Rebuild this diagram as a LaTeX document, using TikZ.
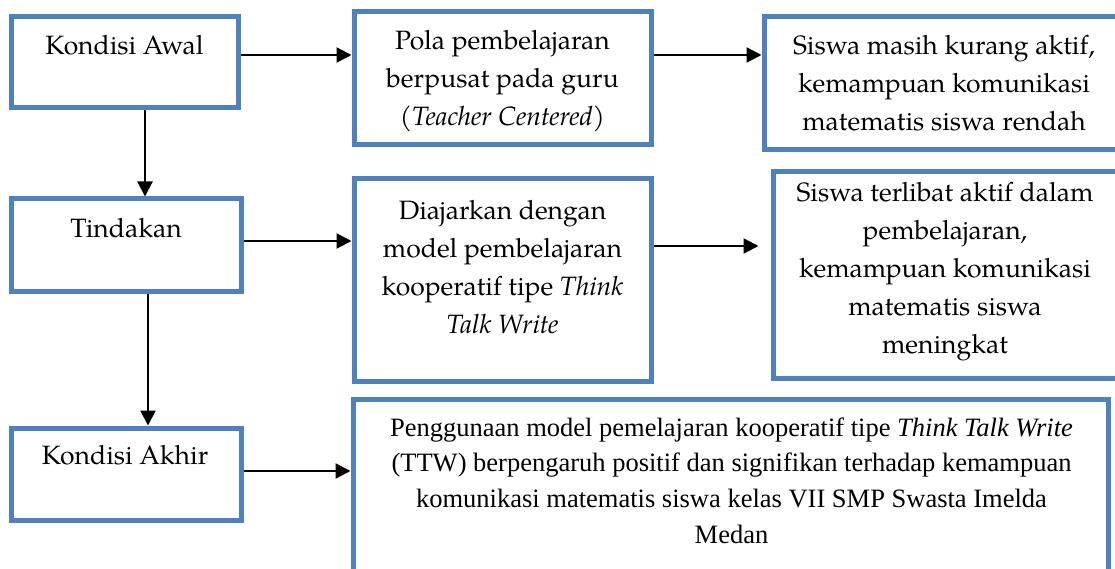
\documentclass[tikz,border=0pt]{standalone}
\usepackage{fontspec}
\setmainfont{texgyrepagella}[Extension=.otf, UprightFont=*-regular,
  ItalicFont=*-italic, BoldFont=*-bold, BoldItalicFont=*-bolditalic]
\newfontfamily\timesfont{Liberation Serif}
\usetikzlibrary{arrows.meta}
\definecolor{wordblue}{HTML}{4F81BD}

\begin{document}
\begin{tikzpicture}[x=1pt, y=-1pt,
  >={Triangle[length=15pt, width=15pt]},
  kotak/.style={draw=wordblue, line width=5pt, inner sep=0pt},
  isi/.style={align=center, inner sep=0pt, outer sep=0pt, anchor=north,
              font=\fontsize{26.5}{37.8}\selectfont},
  isitm/.style={isi, font=\timesfont\fontsize{26.5}{35.8}\selectfont},
  panah/.style={->, line width=2.2pt},
]
\useasboundingbox (0,0) rectangle (1115,569);
\clip (0,0) rectangle (1115,569);

% kotak
\node[kotak, minimum width=227pt, minimum height=91pt] (awal) at (124.5,62.5) {};
\node[kotak, minimum width=297pt, minimum height=133pt] (pola) at (502.5,78.5) {};
\node[kotak, minimum width=360pt, minimum height=133pt] (rendah) at (944,83.5) {};
\node[kotak, minimum width=230pt, minimum height=92pt] (tindakan) at (126,245) {};
\node[kotak, minimum width=297pt, minimum height=202pt] (ttw) at (502.5,280) {};
\node[kotak, minimum width=344pt, minimum height=206pt] (meningkat) at (945,275) {};
\node[kotak, minimum width=230pt, minimum height=92pt] (akhir) at (126,474) {};
\node[kotak, minimum width=755pt, minimum height=221pt] (simpulan) at (730.5,509.5) {};

% teks
\node[isi] (t-awal) at (124.5,28.5) {\strut Kondisi Awal};
\node[isi] (t-pola) at (502.5,23.5) {\strut Pola pembelajaran\\berpusat pada guru\\(\textit{Teacher Centered})};
\node[isi] (t-rendah) at (944,28.5) {\strut Siswa masih kurang aktif,\\kemampuan komunikasi\\matematis siswa rendah};
\node[isi] (t-tindakan) at (126,211.5) {\strut Tindakan};
\node[isi] (t-ttw) at (502.5,193.5) {\strut Diajarkan dengan\\model pembelajaran\\kooperatif tipe \textit{Think}\\\textit{Talk Write}};
\node[isi] (t-meningkat) at (945,175.5) {\strut Siswa terlibat aktif dalam\\pembelajaran,\\kemampuan komunikasi\\matematis siswa\\meningkat};
\node[isi] (t-akhir) at (125,438.5) {\strut Kondisi Akhir};
\node[isitm] (t-simpulan) at (731.5,411) {\strut Penggunaan model pemelajaran kooperatif tipe \textit{Think Talk Write}\\(TTW) berpengaruh positif dan signifikan terhadap kemampuan\\komunikasi matematis siswa kelas VII SMP Swasta Imelda\\Medan};

% panah
\draw[panah] (awal.east) ++(0,-7.5) coordinate (p1) -- (p1 -| pola.west);
\draw[panah] (pola.east) ++(0,-23.5) coordinate (p2) -- (p2 -| rendah.west);
\draw[panah] (awal.south) ++(20.5,0) coordinate (p3) -- (p3 |- tindakan.north);
\draw[panah] (tindakan.east) ++(0,-4) coordinate (p4) -- (p4 -| ttw.west);
\draw[panah, shorten >=12pt] (ttw.east) ++(0,-34) coordinate (p5) -- (p5 -| meningkat.west);
\draw[panah] (tindakan.south) ++(22,0) coordinate (p6) -- (p6 |- akhir.north);
\draw[panah] (akhir.east) ++(0,-3) coordinate (p7) -- (p7 -| simpulan.west);
\end{tikzpicture}
\end{document}
